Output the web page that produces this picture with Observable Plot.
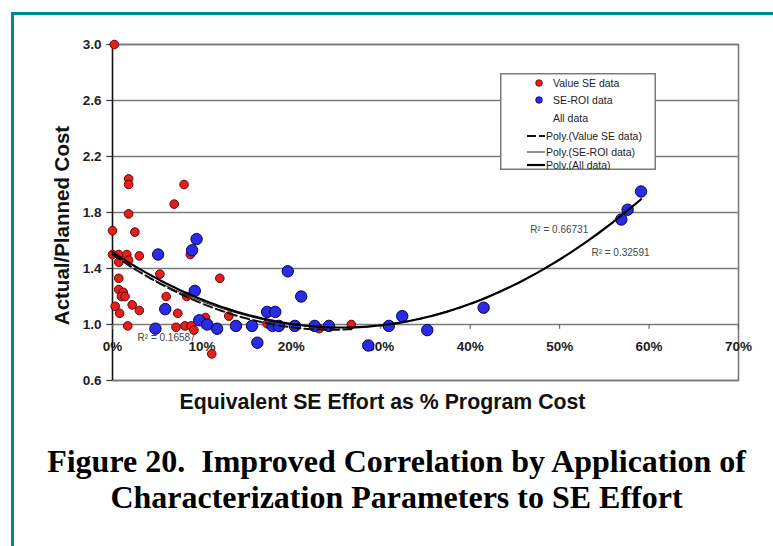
<!DOCTYPE html>
<html>
<head>
<meta charset="utf-8">
<script src="https://cdn.jsdelivr.net/npm/d3@7"></script>
<script src="https://cdn.jsdelivr.net/npm/@observablehq/plot@0.6"></script>
<style>
  body { margin: 0; background: #fff; }
  #wrap { position: relative; width: 773px; height: 546px; overflow: hidden; background: #fff; }
  .teal { position: absolute; background: #008b8b; }
  #chart { position: absolute; left: 0; top: 0; }
  #legend { position: absolute; left: 500px; top: 73px; }
  #caption { position: absolute; left: 10px; top: 443px; width: 773px; text-align: center;
    font-family: "Liberation Serif", "Times New Roman", serif; font-weight: bold; font-size: 32px; line-height: 36px; color: #000; }
</style>
</head>
<body>
<div id="wrap">
  <div class="teal" style="left:11px; top:12px; right:0; height:3px;"></div>
  <div class="teal" style="left:11px; top:12px; width:3px; bottom:0;"></div>
  <div id="chart"></div>
  <div id="legend"></div>
  <div id="caption">Figure 20.&nbsp; Improved Correlation by Application of<br>Characterization Parameters to SE Effort</div>
</div>
<script>
// ---- data ----
const valueSEx = [0.002,0.018,0.018,0.080,0.069,0.018,0.000,0.025,0.000,0.007,0.016,0.030,0.087,0.007,0.018,0.053,0.007,0.120,0.007,0.012,0.010,0.014,0.003,0.008,0.022,0.030,0.060,0.083,0.073,0.017,0.071,0.081,0.088,0.091,0.104,0.111,0.130,0.173,0.231,0.267];
const valueSEy = [3.00,2.04,2.00,2.00,1.86,1.79,1.67,1.66,1.50,1.50,1.50,1.49,1.50,1.445,1.46,1.36,1.33,1.33,1.25,1.23,1.20,1.20,1.13,1.08,1.14,1.10,1.20,1.20,1.08,0.99,0.98,0.99,0.99,0.96,1.05,0.79,1.06,1.005,0.97,1.00];
const seRoiX = [0.051,0.094,0.089,0.092,0.059,0.048,0.097,0.106,0.117,0.138,0.156,0.162,0.173,0.182,0.179,0.186,0.196,0.211,0.204,0.226,0.242,0.286,0.309,0.324,0.352,0.415,0.569,0.576,0.591];
const seRoiY = [1.50,1.61,1.53,1.24,1.11,0.97,1.03,1.00,0.97,0.99,0.99,0.87,1.09,1.09,0.99,0.99,1.38,1.20,0.99,0.99,0.99,0.85,0.99,1.06,0.96,1.12,1.75,1.82,1.95];

// polynomial trendline coefficients [c0, c1, c2] and x-extent
const polyValueSE = [1.50, -4.397, 8.99];
const polyValueSERange = [0, 0.267];
const polySEROI = [1.49, -4.05, 8.0];
const polySEROIRange = [0.048, 0.591];
const polyAll = [1.516, -4.194, 8.18];
const polyAllRange = [0, 0.591];

const yTicks = [0.6, 1.0, 1.4, 1.8, 2.2, 2.6, 3.0];
const yTickLabels = ["0.6", "1.0", "1.4", "1.8", "2.2", "2.6", "3.0"];
const xTicks = [0, 0.1, 0.2, 0.3, 0.4, 0.5, 0.6, 0.7];
const xTickLabels = ["0%", "10%", "20%", "30%", "40%", "50%", "60%", "70%"];

const rLabels = ["R\u00b2 = 0.66731", "R\u00b2 = 0.32591", "R\u00b2 = 0.16587"];
const rLabelX = [0.4995, 0.568, 0.0605];
const rLabelY = [1.678, 1.514, 0.905];

const legendLabels = ["Value SE data", "SE-ROI data", "All data", "Poly.(Value SE data)", "Poly.(SE-ROI data)", "Poly.(All data)"];

// ---- build tables ----
const redData = valueSEx.map((x, i) => ({x, y: valueSEy[i]}));
const blueData = seRoiX.map((x, i) => ({x, y: seRoiY[i]}));
function curve(c, range) {
  const n = 120;
  return d3.range(n + 1).map(i => {
    const x = range[0] + (range[1] - range[0]) * i / n;
    return {x, y: c[0] + c[1] * x + c[2] * x * x};
  });
}
const rTable = rLabels.map((t, i) => ({t, x: rLabelX[i], y: rLabelY[i]}));
const xTickTable = xTicks.map((x, i) => ({x, label: xTickLabels[i]}));
const yTickTable = yTicks.map((y, i) => ({y, label: yTickLabels[i]}));

const FONT = "Arial, 'Liberation Sans', Helvetica, sans-serif";

const chart = Plot.plot({
  width: 773,
  height: 432,
  marginLeft: 112,
  marginRight: 35,
  marginTop: 44,
  marginBottom: 52,
  style: {fontFamily: FONT, background: "transparent", overflow: "visible"},
  x: {domain: [0, 0.7], axis: null},
  y: {domain: [0.6, 3.0], axis: null},
  marks: [
    Plot.gridY(yTicks, {stroke: "#7a7a7a", strokeOpacity: 1, strokeWidth: 1.6}),
    Plot.frame({stroke: "#7a7a7a", strokeWidth: 1.6}),
    Plot.ruleX([0], {stroke: "#111", strokeWidth: 1.3}),
    Plot.ruleY(yTickTable, {y: "y", x1: -0.0062, x2: 0, stroke: "#333", strokeWidth: 1.2}),
    Plot.text(yTickTable, {y: "y", x: 0, dx: -11, text: "label", textAnchor: "end", fontSize: 13.5, fontWeight: "bold", fill: "#222"}),
    Plot.ruleX(xTickTable, {x: "x", y1: 1.0, y2: 0.965, stroke: "#555"}),
    Plot.text(xTickTable, {x: "x", y: 1.0, dy: 22, text: "label", fontSize: 13.5, fontWeight: "bold", fill: "#222"}),
    Plot.dot(redData, {x: "x", y: "y", r: 4.3, fill: "#e3201b", stroke: "#6b0000", strokeWidth: 1}),
    Plot.dot(blueData, {x: "x", y: "y", r: 5.7, fill: "#2b2be3", stroke: "#00005c", strokeWidth: 1}),
    Plot.line(curve(polySEROI, polySEROIRange), {x: "x", y: "y", stroke: "#222", strokeWidth: 1}),
    Plot.line(curve(polyValueSE, polyValueSERange), {x: "x", y: "y", stroke: "#111", strokeWidth: 2, strokeDasharray: "9,4"}),
    Plot.line(curve(polyAll, polyAllRange), {x: "x", y: "y", stroke: "#000", strokeWidth: 2.2}),
    Plot.text(rTable, {x: "x", y: "y", text: "t", fontSize: 10, fill: "#444"}),
    Plot.text(["Actual/Planned Cost"], {frameAnchor: "left", textAnchor: "middle", dx: -50, dy: 13, rotate: -90, fontSize: 20.5, fontWeight: "bold", fill: "#111"}),
    Plot.text(["Equivalent SE Effort as % Program Cost"], {frameAnchor: "bottom", textAnchor: "middle", dx: -43, dy: 28, fontSize: 21.3, fontWeight: "bold", fill: "#111"})
  ]
});
document.getElementById("chart").appendChild(chart);

// ---- legend (real text) ----
const ns = "http://www.w3.org/2000/svg";
const lg = document.createElementNS(ns, "svg");
lg.setAttribute("width", 156);
lg.setAttribute("height", 97);
lg.style.fontFamily = FONT;
function el(tag, attrs, text) {
  const e = document.createElementNS(ns, tag);
  for (const k in attrs) e.setAttribute(k, attrs[k]);
  if (text) e.textContent = text;
  lg.appendChild(e);
  return e;
}
el("rect", {x: 0.75, y: 0.75, width: 154.5, height: 95.5, fill: "#fff", stroke: "#7a7a7a", "stroke-width": 1.5});
const rowY = [10, 27, 45, 63, 79, 92];
el("circle", {cx: 39, cy: rowY[0], r: 3.3, fill: "#e3201b", stroke: "#6b0000", "stroke-width": 0.8});
el("circle", {cx: 39, cy: rowY[1], r: 3.3, fill: "#2b2be3", stroke: "#00005c", "stroke-width": 0.8});
el("line", {x1: 27, x2: 45, y1: rowY[3], y2: rowY[3], stroke: "#111", "stroke-width": 2, "stroke-dasharray": "9,3"});
el("line", {x1: 27, x2: 45, y1: rowY[4], y2: rowY[4], stroke: "#222", "stroke-width": 1});
el("line", {x1: 27, x2: 45, y1: rowY[5], y2: rowY[5], stroke: "#000", "stroke-width": 2.2});
legendLabels.forEach((t, i) => {
  el("text", {x: i < 3 ? 53 : 46, y: rowY[i], dy: "0.35em", "font-size": 10.5, fill: "#222"}, t);
});
document.getElementById("legend").appendChild(lg);
</script>
</body>
</html>
